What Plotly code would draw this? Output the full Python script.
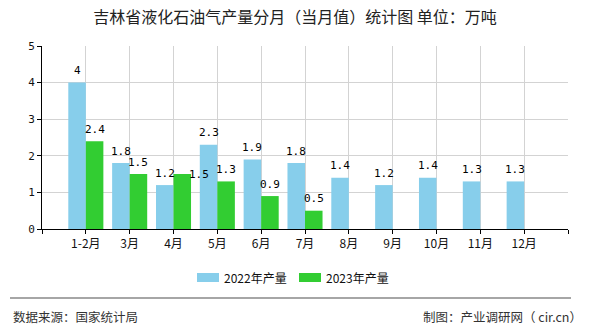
import plotly.graph_objects as go

# Monthly LPG output in Jilin province (10k tonnes)
months = ["1-2月", "3月", "4月", "5月", "6月", "7月", "8月", "9月", "10月", "11月", "12月"]
output_2022 = [4, 1.8, 1.2, 2.3, 1.9, 1.8, 1.4, 1.2, 1.4, 1.3, 1.3]
output_2023 = [2.4, 1.5, 1.5, 1.3, 0.9, 0.5]
y_ticks = [0, 1, 2, 3, 4, 5]

COLOR_2022 = "#87CEEB"
COLOR_2023 = "#32CD32"
CJK = "Noto Sans CJK SC"
MONO = "DejaVu Sans Mono"

# plot-area geometry in pixels, used to place paper-referenced extras
L, R, T, B = 42, 568, 46, 229
W, H = R - L, B - T

def px(x):
    return (x - L) / W

def py(y):
    return (B - y) / H

pos = list(range(1, len(months) + 1))
bar_w = 0.4

fig = go.Figure()
fig.add_bar(x=pos, y=output_2022, width=bar_w, offset=-bar_w,
            marker=dict(color=COLOR_2022, line=dict(width=0)), name="2022年产量")
fig.add_bar(x=pos[:len(output_2023)], y=output_2023, width=bar_w, offset=0,
            marker=dict(color=COLOR_2023, line=dict(width=0)), name="2023年产量")

# value labels above each bar
def label(x, y, xshift=0, yshift=12):
    fig.add_annotation(x=x, y=y, xref="x", yref="y", text=f"{y:g}", showarrow=False,
                       xshift=xshift, yshift=yshift,
                       font=dict(family=MONO, size=11, color="#000"))

for p, v in zip(pos, output_2022):
    label(p - bar_w / 2, v)
for i, (p, v) in enumerate(zip(pos, output_2023)):
    if i == 2:
        label(p + bar_w / 2, v, xshift=17, yshift=0)
    else:
        label(p + bar_w / 2, v)

fig.update_layout(
    width=590, height=330,
    margin=dict(l=L, r=590 - R, t=T, b=330 - B, autoexpand=False),
    paper_bgcolor="white", plot_bgcolor="white",
    showlegend=False,
    title=dict(text="吉林省液化石油气产量分月（当月值）统计图 单位：万吨",
               x=0.5, xanchor="center", y=1 - 17 / 330, yanchor="middle",
               font=dict(family=CJK, size=16, color="#222")),
    xaxis=dict(range=[0, len(months) + 1],
               tickvals=[0] + pos + [len(months) + 1],
               ticktext=[""] + months + [""],
               showgrid=True, gridcolor="#d3d3d3", gridwidth=1,
               showline=True, linecolor="#000", linewidth=1,
               ticks="outside", ticklen=4, tickcolor="#000",
               tickfont=dict(family=CJK, size=12, color="#111"),
               zeroline=False, fixedrange=True),
    yaxis=dict(range=[0, 5], tickvals=y_ticks,
               showgrid=True, gridcolor="#d3d3d3", gridwidth=1,
               showline=True, linecolor="#000", linewidth=1,
               ticks="outside", ticklen=4, tickcolor="#000",
               tickfont=dict(family=MONO, size=11, color="#111"),
               zeroline=False, fixedrange=True),
)

# legend
legend_items = [(197, COLOR_2022, "2022年产量"), (299, COLOR_2023, "2023年产量")]
for x0, col, txt in legend_items:
    fig.add_shape(type="rect", xref="paper", yref="paper",
                  x0=px(x0), x1=px(x0 + 22), y0=py(282), y1=py(273),
                  fillcolor=col, line=dict(width=0))
    fig.add_annotation(xref="paper", yref="paper", x=px(x0 + 25), y=py(277.5),
                       xanchor="left", yanchor="middle", text=txt, showarrow=False,
                       font=dict(family=CJK, size=12, color="#111"))

# footer separator and source notes
fig.add_shape(type="line", xref="paper", yref="paper",
              x0=px(10), x1=px(571), y0=py(298), y1=py(298),
              line=dict(color="#888", width=1.5))
fig.add_annotation(xref="paper", yref="paper", x=px(11), y=py(316),
                   xanchor="left", yanchor="middle", text="数据来源：国家统计局", showarrow=False,
                   font=dict(family=CJK, size=12.5, color="#333"))
fig.add_annotation(xref="paper", yref="paper", x=px(584), y=py(316),
                   xanchor="right", yanchor="middle", text="制图：产业调研网（ cir.cn）", showarrow=False,
                   font=dict(family=CJK, size=12.5, color="#333"))

fig.write_html("out.html")
